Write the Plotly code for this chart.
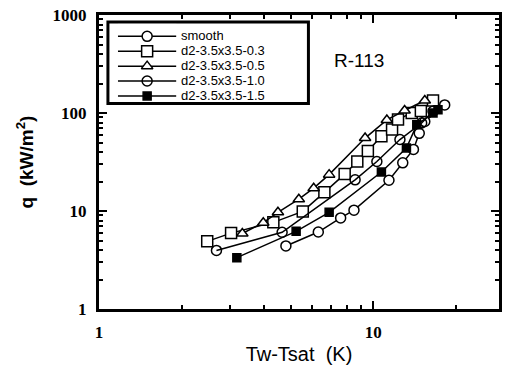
import plotly.graph_objects as go

# ---- data ----
smooth_x = [4.8, 6.3, 7.6, 8.5, 11.4, 12.8, 14.0, 14.7, 15.4, 18.2]
smooth_y = [4.4, 6.1, 8.5, 10.2, 20.6, 31.0, 42.5, 62.0, 82.0, 121.0]

s03_x = [2.48, 3.03, 4.32, 5.53, 6.63, 7.86, 8.74, 9.55, 10.7, 11.7, 12.3, 13.8, 14.9, 16.5]
s03_y = [4.9, 5.95, 7.66, 9.9, 15.5, 23.8, 32.0, 41.0, 58.0, 68.0, 86.0, 100.0, 105.0, 134.0]

s05_x = [3.33, 3.97, 4.49, 5.35, 6.06, 6.9, 9.33, 11.2, 13.0, 15.4]
s05_y = [5.9, 7.6, 9.7, 13.2, 17.1, 23.5, 55.5, 85.0, 106.0, 134.0]

s10_x = [2.68, 4.65, 8.58, 10.3, 12.5, 15.0, 16.5]
s10_y = [3.96, 6.07, 20.8, 32.0, 53.6, 79.0, 104.0]

s15_x = [3.18, 5.23, 6.9, 10.7, 13.2, 14.4, 16.5, 17.2]
s15_y = [3.34, 6.2, 9.7, 25.0, 44.0, 76.0, 100.0, 108.0]

names = ["smooth", "d2-3.5x3.5-0.3", "d2-3.5x3.5-0.5", "d2-3.5x3.5-1.0", "d2-3.5x3.5-1.5"]
x_ticks = [1, 10]
y_ticks = [1, 10, 100, 1000]

styles = [
    ("circle", "white", 10),
    ("square", "white", 11),
    ("triangle-up", "white", 10),
    ("circle-open", "black", 10),
    ("square", "black", 8),
]
data = [(smooth_x, smooth_y), (s03_x, s03_y), (s05_x, s05_y), (s10_x, s10_y), (s15_x, s15_y)]

fig = go.Figure()
for (x, y), name, (sym, fill, size) in zip(data, names, styles):
    fig.add_trace(go.Scatter(
        x=x, y=y, name=name, mode="lines+markers", showlegend=False,
        line=dict(color="black", width=1.5),
        marker=dict(symbol=sym, size=size, color=fill,
                    line=dict(color="black", width=1.5)),
    ))

# ---- custom legend (compact, like the reference) on an auxiliary axis ----
# plot area in px: x 99..502, y 13..309
PW, PH = 403.0, 296.0
def px2paper_x(px):
    return (px - 99) / PW
def px2paper_y(py):
    return (309 - py) / PH

row0, rowgap = 34.5, 15.0
line_l, line_r = 118.0, 177.0
dom_top_px, dom_bot_px = 22.0, 98.0
r_top = (dom_top_px - row0) / rowgap
r_bot = (dom_bot_px - row0) / rowgap

for i, (name, (sym, fill, size)) in enumerate(zip(names, styles)):
    fig.add_trace(go.Scatter(
        x=[0, 1], y=[i, i], mode="lines", showlegend=False, hoverinfo="skip",
        line=dict(color="black", width=1.5), xaxis="x2", yaxis="y2",
    ))
    fig.add_trace(go.Scatter(
        x=[0.5], y=[i], mode="markers", showlegend=False, hoverinfo="skip",
        marker=dict(symbol=sym, size=size, color=fill,
                    line=dict(color="black", width=1.5)),
        xaxis="x2", yaxis="y2", cliponaxis=False,
    ))

annotations = [
    dict(text=name, x=px2paper_x(line_r + 4), y=px2paper_y(row0 + i * rowgap),
         xref="paper", yref="paper", xanchor="left", yanchor="middle",
         showarrow=False, height=12, borderpad=0, yshift=1,
         font=dict(family="Liberation Sans", size=13, color="black"))
    for i, name in enumerate(names)
]
annotations.append(dict(
    text="R-113", x=px2paper_x(388), y=px2paper_y(46.5), xref="paper", yref="paper",
    showarrow=False, font=dict(family="Liberation Sans", size=19, color="black"),
))

tickfont = dict(family="Liberation Serif", size=17, color="black")

fig.update_layout(
    width=508, height=368,
    margin=dict(l=99, r=6, t=13, b=59),
    paper_bgcolor="white", plot_bgcolor="white",
    showlegend=False,
    xaxis=dict(
        type="log", range=[0, 1.458],
        showline=True, linecolor="black", linewidth=3, mirror="ticks",
        ticks="inside", ticklen=8, tickwidth=1.5, tickcolor="black",
        tickvals=x_ticks, ticktext=["<b>%d</b>" % v for v in x_ticks],
        tickfont=tickfont, showgrid=False, zeroline=False,
        ticklabelstandoff=6,
        minor=dict(ticks="inside", ticklen=4, tickcolor="black",
                   tickvals=[2, 3, 4, 5, 6, 7, 8, 9, 20, 30], showgrid=False),
        title=dict(text="Tw-Tsat\u00a0\u00a0(K)",
                   font=dict(family="Liberation Sans", size=20, color="black"),
                   standoff=6),
    ),
    yaxis=dict(
        type="log", range=[0, 3],
        showline=True, linecolor="black", linewidth=3, mirror="ticks",
        ticks="inside", ticklen=8, tickwidth=1.5, tickcolor="black",
        tickvals=y_ticks, ticktext=["<b>%d</b>" % v for v in y_ticks],
        tickfont=tickfont, showgrid=False, zeroline=False,
        ticklabelstandoff=6,
        minor=dict(ticks="inside", ticklen=4, tickcolor="black",
                   tickvals=[2, 3, 4, 5, 6, 7, 8, 9, 20, 30, 40, 50, 60, 70, 80, 90,
                             200, 300, 400, 500, 600, 700, 800, 900], showgrid=False),
        title=dict(text="<b>q\u00a0\u00a0(kW/m<sup>2</sup>)</b>",
                   font=dict(family="Liberation Sans", size=19, color="black"),
                   standoff=14),
    ),
    xaxis2=dict(domain=[px2paper_x(line_l), px2paper_x(line_r)], range=[0, 1],
                anchor="y2", visible=False, fixedrange=True),
    yaxis2=dict(domain=[px2paper_y(dom_bot_px), px2paper_y(dom_top_px)],
                range=[r_bot, r_top], anchor="x2", visible=False, fixedrange=True),
    shapes=[dict(
        type="rect", xref="paper", yref="paper",
        x0=px2paper_x(108), x1=px2paper_x(310), y0=px2paper_y(102), y1=px2paper_y(20),
        line=dict(color="black", width=3), fillcolor="white", layer="below",
    )],
    annotations=annotations,
)

fig.write_html("out.html")
